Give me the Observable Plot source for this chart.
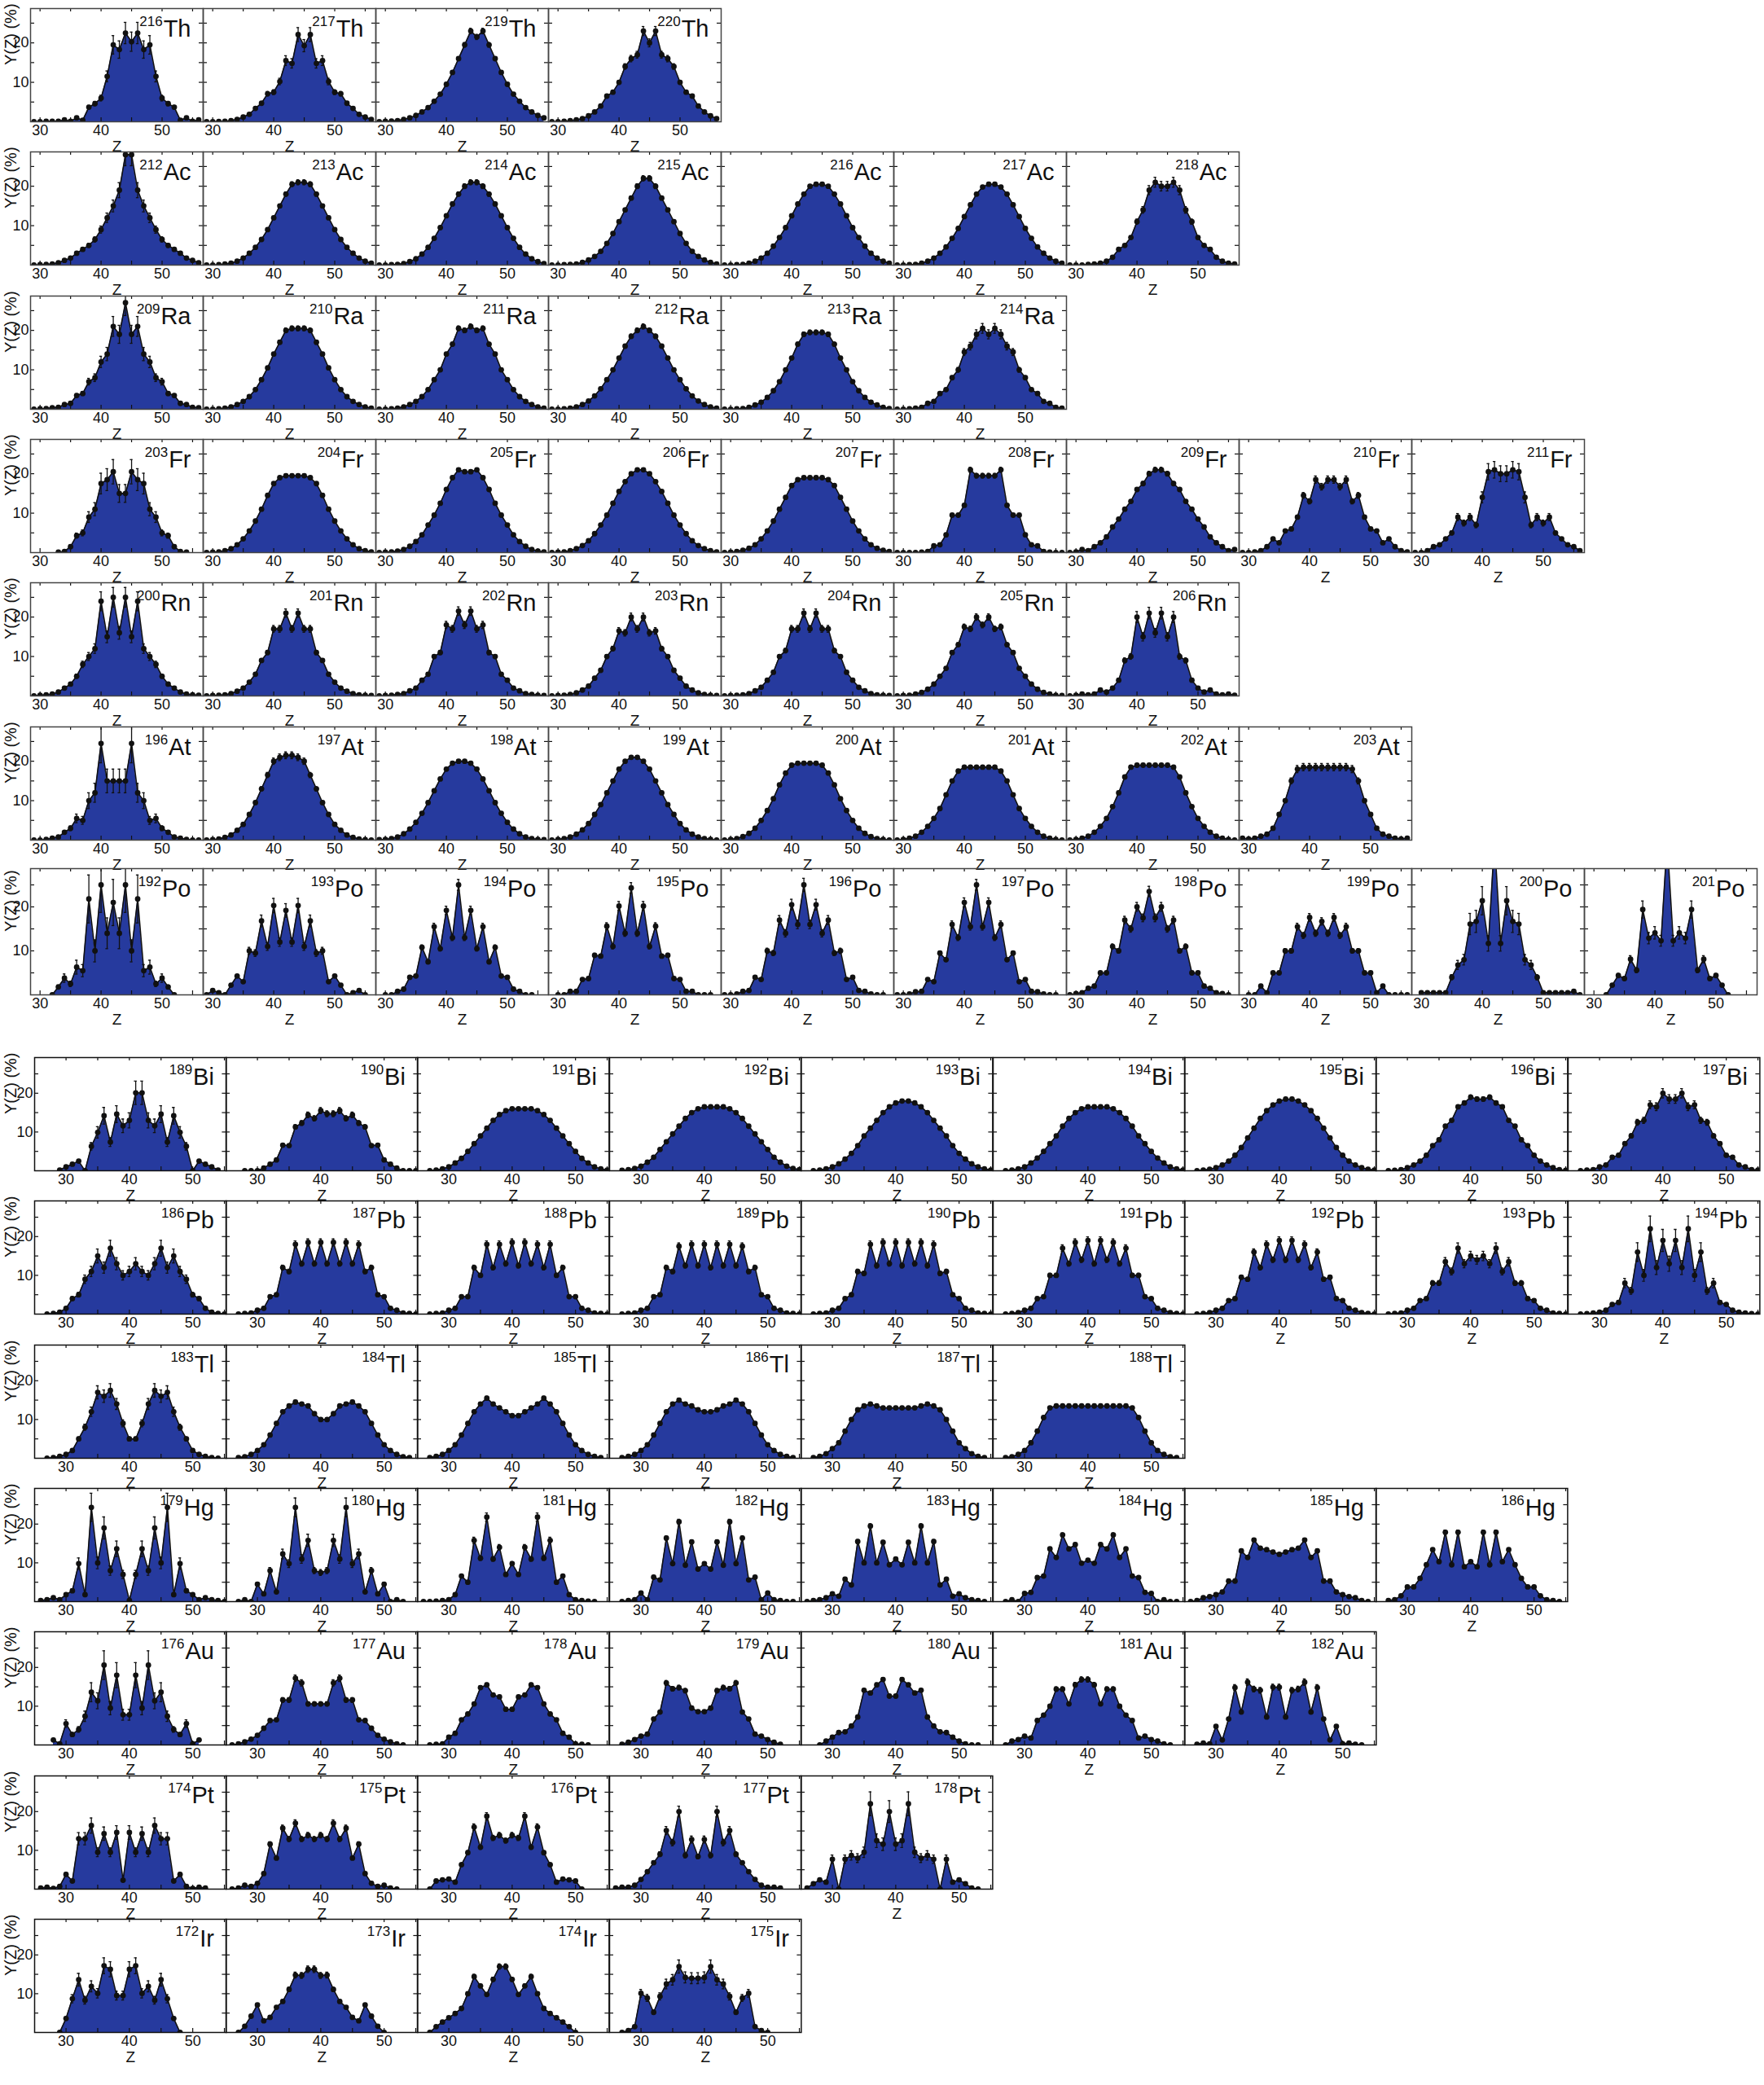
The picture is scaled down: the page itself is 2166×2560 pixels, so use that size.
<!DOCTYPE html>
<html><head><meta charset="utf-8">
<script src="https://cdn.jsdelivr.net/npm/d3@7"></script>
<script src="https://cdn.jsdelivr.net/npm/@observablehq/plot@0.6"></script>
<style>
body{margin:0;background:#fff;}
#root{position:relative;width:2166px;height:2560px;overflow:hidden;background:#fff;}
</style></head><body><div id="root"></div>
<script>
// ---------- data: Y(Z) in %, consecutive Z starting at z0 ----------
const Th = [
 {A:216,z0:29,err:0.12,y:[0,0,0.1,0.1,0.1,0.5,0.1,1.0,0.4,3.7,4.6,6.0,11.5,19.5,18.3,22.5,20.3,22.5,18.3,19.5,11.5,6.0,4.6,3.7,0.4,1.0,0.1,0.5]},
 {A:217,z0:29,err:0.08,y:[0,0,0.05,0.1,0.3,0.6,1.2,1.9,3.4,4.7,7.1,7.5,10.2,15.5,14.8,22.1,19.3,22.1,14.8,15.5,10.2,7.5,7.1,4.7,3.4,1.9,1.2,0.6]},
 {A:219,z0:29,err:0.03,y:[0,0.1,0.2,0.3,0.6,1.0,1.6,2.5,3.6,5.2,7.0,9.5,12.5,16,19.5,23,21.5,23,19.5,16,12.5,9.5,7.0,5.2,3.6,2.5,1.6,1.0]},
 {A:220,z0:29,err:0.05,y:[0,0,0.1,0.3,0.5,0.8,1.5,2.5,4.0,6.5,7.5,10,14,16,17,23,20,23,17,16,14,10,7.5,6.5,4.0,2.5,1.5,0.8]}
];
const Ac = [
 {A:212,z0:29,err:0.1,y:[0,0.1,0.2,0.3,0.6,1.2,1.8,3,4,5,6.5,9,12,15,19,28,28,19,15,12,9,6.5,5,4,3,1.8,1.2,0.6]},
 {A:213,z0:29,err:0.03,y:[0,0,0.1,0.3,0.5,1.0,1.8,3,4.5,6.5,9,12,15,18,20.5,21,21,20.5,18,15,12,9,6.5,4.5,3,1.8,1.0,0.5]},
 {A:214,z0:29,err:0.03,y:[0,0,0.1,0.2,0.4,0.9,1.6,2.8,4.5,6.8,9.5,12.5,15.5,18,20,21,21,20,18,15.5,12.5,9.5,6.8,4.5,2.8,1.6,0.9,0.4]},
 {A:215,z0:29,err:0.03,y:[0,0,0.1,0.2,0.3,0.7,1.3,2.2,3.5,5.5,8,11,14,17,20,22,22,20,17,14,11,8,5.5,3.5,2.2,1.3,0.7,0.3]},
 {A:216,z0:29,err:0.02,y:[0,0,0.1,0.2,0.5,1,1.8,3,4.8,7,9.5,12.5,15.5,18,20,20.5,20.5,20,18,15.5,12.5,9.5,7,4.8,3,1.8,1,0.5]},
 {A:217,z0:29,err:0.02,y:[0,0,0.1,0.2,0.5,1,1.8,3,4.6,6.8,9.3,12.3,15.3,18,19.8,20.5,20.5,19.8,18,15.3,12.3,9.3,6.8,4.6,3,1.8,1,0.5]},
 {A:218,z0:29,err:0.06,y:[0,0,0,0.2,0.3,0.5,1,2,4,5,7,11,14,19,21,20,20,21,19,14,11,7,5,4,2,1,0.5,0.3]}
];
const Ra = [
 {A:209,z0:29,err:0.12,y:[0,0.1,0.2,0.4,0.5,1.2,1.5,3.5,4,7,8,12,14,21,19,27,19,21,14,12,8,7,4,3.5,1.5,1.2,0.5,0.4]},
 {A:210,z0:29,err:0.03,y:[0,0,0.1,0.3,0.6,1.2,2,3.2,5,7.5,10.5,14,17,20,20.5,20.5,20.5,20,17,14,10.5,7.5,5,3.2,2,1.2,0.6,0.3]},
 {A:211,z0:29,err:0.03,y:[0,0,0.1,0.3,0.6,1.2,2,3.2,5,7.5,10,14,16.5,20.5,20,21,20,20.5,16.5,14,10,7.5,5,3.2,2,1.2,0.6,0.3]},
 {A:212,z0:29,err:0.03,y:[0,0,0.1,0.3,0.6,1.2,2.1,3.4,5.2,7.5,10,13,16,18.5,20,21,20,18.5,16,13,10,7.5,5.2,3.4,2.1,1.2,0.6,0.3]},
 {A:213,z0:29,err:0.03,y:[0,0,0.1,0.2,0.5,1.1,1.8,3,4.7,7,10,13,16.5,19,19.5,19.5,19.5,19,16.5,13,10,7,4.7,3,1.8,1.1,0.5,0.2]},
 {A:214,z0:29,err:0.06,y:[0,0,0.1,0.3,0.5,1.5,2,4,5,8,10,14.5,16,19,20.5,19,20.5,19,16,14.5,10,8,5,4,2,1.5,0.5,0.3]}
];
const Fr = [
 {A:203,z0:33,err:0.15,y:[0.1,0.3,1.5,4.3,5,9,11,17.5,18.5,20.5,15,15,20.5,18.5,17.5,11,9,5,4.3,1.5,0.3,0.1]},
 {A:204,z0:29,err:0.02,y:[0,0.1,0.2,0.5,1,2,3.5,5.5,8,11,14.5,17.5,19,19.5,19.5,19.5,19.5,19,17.5,14.5,11,8,5.5,3.5,2,1,0.5,0.2]},
 {A:205,z0:29,err:0.02,y:[0,0.1,0.2,0.4,0.8,1.6,2.8,4.5,7,9.5,12.5,16,19,21,20.5,20.5,21,19,16,12.5,9.5,7,4.5,2.8,1.6,0.8,0.4,0.2]},
 {A:206,z0:29,err:0.02,y:[0,0.1,0.2,0.5,1,1.8,3,4.8,7,9.5,12.5,15.5,18,20,21,21,20,18,15.5,12.5,9.5,7,4.8,3,1.8,1,0.5,0.2]},
 {A:207,z0:29,err:0.02,y:[0,0.1,0.3,0.6,1.1,2,3.5,5.5,8,11,14,17,18.5,19,19,19,19,18.5,17,14,11,8,5.5,3.5,2,1.1,0.6,0.3]},
 {A:208,z0:29,err:0.03,y:[0,0,0,0,0.1,0.3,1.7,2,4.5,9.5,9.5,12,21,19.5,19.5,19.5,19.5,21,12,9.5,9.5,4.5,2,1.7,0.3,0.1,0,0]},
 {A:209,z0:29,err:0.03,y:[0,0.2,0.8,0.5,1.5,2.5,4,6.5,8.5,11,13,16,17.5,20,21,21,20,17.5,16,13,11,8.5,6.5,4,2.5,1.5,0.5,0.8]},
 {A:210,z0:29,err:0.05,y:[0,0,0.2,0.5,1.5,3.5,2.5,5.5,6,9,14.5,13,18.5,16.7,18.5,18.5,16.7,18.5,13,14.5,9,6,5.5,2.5,3.5,1.5,0.5,0.2]},
 {A:211,z0:29,err:0.1,y:[0,0,0.5,1.5,2,3.5,5,9,7.5,9,7,14,20.5,21,20,20,21,20.5,14,7,9,7.5,9,5,3.5,2,1.5,0.5]}
];
const Rn = [
 {A:200,z0:29,err:0.1,y:[0,0.2,0.3,0.5,1,2,3,5,8,10,12,24,15,25,16,25,15,24,12,10,8,5,3,2,1,0.5,0.3,0.2]},
 {A:201,z0:29,err:0.05,y:[0,0.1,0.2,0.3,0.6,1.2,2,3.5,5.5,9,11,17,17,21,17,21,17,17,11,9,5.5,3.5,2,1.2,0.6,0.3,0.2,0.1]},
 {A:202,z0:29,err:0.05,y:[0,0.1,0.2,0.4,0.6,1.3,2,4,5.5,10,11,18,17,21.5,18,21.5,17,18,11,10,5.5,4,2,1.3,0.6,0.4,0.2,0.1]},
 {A:203,z0:29,err:0.05,y:[0,0.1,0.2,0.4,0.8,1.5,2.5,4.5,6.5,10,12,16.5,16,20,17,20,16,16.5,12,10,6.5,4.5,2.5,1.5,0.8,0.4,0.2,0.1]},
 {A:204,z0:29,err:0.05,y:[0,0.1,0.2,0.3,0.6,1.3,2.2,4,6,10,11.5,17,17,21,17,21,17,17,11.5,10,6,4,2.2,1.3,0.6,0.3,0.2,0.1]},
 {A:205,z0:29,err:0.04,y:[0,0.1,0.2,0.5,0.9,1.7,3,5,7,11,13,17.5,17,20,18,20,17,17.5,13,11,7,5,3,1.7,0.9,0.5,0.2,0.1]},
 {A:206,z0:29,err:0.07,y:[0,0.2,0.5,0.3,0.5,1.5,1,2,4,9,10,20,15,21,16,21,15,20,10,9,4,2,1,1.5,0.5,0.3,0.5,0.2]}
];
const At = [
 {A:196,z0:29,err:0.2,y:[0,0,0.2,0.5,0.8,2,3,5.5,5,10,12,24.5,15,15,15,15,24.5,12,10,5,5.5,3,2,0.8,0.5,0.2,0,0]},
 {A:197,z0:29,err:0.04,y:[0,0.1,0.3,0.7,1.3,2.5,4,6.5,9.5,13,16.5,20,21,21.5,21.5,21,20,16.5,13,9.5,6.5,4,2.5,1.3,0.7,0.3,0.1,0]},
 {A:198,z0:29,err:0.02,y:[0.1,0.2,0.4,0.8,1.6,2.8,4.5,6.8,9.5,12.5,15.5,18,19.5,20,20,19.5,18,15.5,12.5,9.5,6.8,4.5,2.8,1.6,0.8,0.4,0.2,0.1]},
 {A:199,z0:29,err:0.02,y:[0,0.2,0.4,0.8,1.5,2.6,4.2,6.5,9,12,15,18,20,21,21,20,18,15,12,9,6.5,4.2,2.6,1.5,0.8,0.4,0.2,0]},
 {A:200,z0:29,err:0.02,y:[0,0.2,0.4,0.9,1.7,3,5,7.5,10.5,14,17,19,19.5,19.5,19.5,19.5,19,17,14,10.5,7.5,5,3,1.7,0.9,0.4,0.2,0]},
 {A:201,z0:29,err:0.02,y:[0,0.2,0.5,1,2,3.5,5.5,8,11.5,15,17.5,18.5,18.5,18.5,18.5,18.5,18.5,17.5,15,11.5,8,5.5,3.5,2,1,0.5,0.2,0]},
 {A:202,z0:29,err:0.02,y:[0,0.2,0.5,1,2,3.5,5.5,8.5,12,16,18.5,19,19,19,19,19,19,18.5,16,12,8.5,5.5,3.5,2,1,0.5,0.2,0]},
 {A:203,z0:29,err:0.05,y:[0.5,0.3,0.5,1,1.5,3,6.5,10,15,18,18.5,18.5,18.5,18.5,18.5,18.5,18.5,18.5,18,15,10,6.5,3,1.5,1,0.5,0.3,0.5]}
];
const Po = [
 {A:192,z0:32,err:0.25,y:[0,1.8,3.8,2.5,6.3,5.5,21.8,10,25,14,21,14,25,10,21.8,5.5,6.3,2.5,3.8,1.8,0]},
 {A:193,z0:29,err:0.08,y:[0,1,0.5,0,2.2,4.3,3,10,9.5,16.8,11,20.3,12,19.2,12,20.3,11,16.8,9.5,10,3,4.3,2.2,0,0.5,1,0]},
 {A:194,z0:30,err:0.05,y:[0,0,0.8,1.3,4,4.3,10.8,7.5,15.5,10.5,19.2,13,25,13,19.2,10.5,15.5,7.5,10.8,4.3,4,1.3,0.8,0,0]},
 {A:195,z0:30,err:0.05,y:[0,0,0.8,0.8,3.5,3.7,9,8.8,15.6,11,20.2,14,24.3,14,20.2,11,15.6,8.8,9,3.7,3.5,0.8,0.8,0,0,0]},
 {A:196,z0:29,err:0.06,y:[0,0,0.2,0.8,1,4,3.5,10,9.5,17,14,20.5,16,25,16,20.5,14,17,9.5,10,3.5,4,1,0.8,0.2,0,0]},
 {A:197,z0:29,err:0.05,y:[0,0,0.2,0.7,0.8,3.5,3,9.5,8,16,13,21,15.5,25,15.5,21,13,16,8,9.5,3,3.5,0.8,0.7,0.2,0,0]},
 {A:198,z0:29,err:0.05,y:[0,0.3,0.5,1.5,2,5,5,11,10,17,15,20,17.5,23.5,17.5,20,15,17,10,11,5,5,2,1.5,0.5,0.3,0]},
 {A:199,z0:30,err:0.05,y:[0,0,2,0.5,5,5,10,10,15.5,13.5,17.6,14,16.7,14,17.6,13.5,15.5,10,10,5,5,0.5,2,0,0,0,0]},
 {A:200,z0:30,err:0.15,y:[0.5,0.5,0.5,0.5,0.5,4,6.8,8,16.1,16.7,21.4,11.7,35,11.7,21.4,16.7,16.1,8,6.8,4,0.5,0.5,0.5,0.5,0.5,0.8,0]},
 {A:201,z0:32,err:0.1,y:[0,2.2,4.4,3.7,8.1,5.6,19.4,12.9,14.1,12.3,35,12.3,14.1,12.9,19.4,5.6,8.1,3.7,4.4,2.2,0]}
];
const Bi = [
 {A:189,z0:29,err:0.15,y:[0.2,1,1.7,2.5,0,6.3,9.9,14.2,7.4,14.6,11.6,13,20.1,20.1,13,11.6,14.6,7.4,14.2,9.9,6.3,0,2.5,1.7,1,0.2]},
 {A:190,z0:28,err:0.05,y:[0,0,0,0.7,1.7,2.8,6.6,6.5,11.3,12.3,14.4,13.5,15.5,14.7,14.7,15.5,13.5,14.4,12.3,11.3,6.5,6.6,2.8,1.7,0.7,0,0,0]},
 {A:191,z0:27,err:0.02,y:[0,0.2,0.5,1,2,3.2,5,7,9,11,13,14.5,15.5,16,16,16,16,15.5,14.5,13,11,9,7,5,3.2,2,1,0.5,0.2]},
 {A:192,z0:27,err:0.02,y:[0.1,0.3,0.6,1.2,2.2,3.5,5.5,7.5,9.5,11.5,13.5,15,16,16.5,16.5,16.5,16.5,16,15,13.5,11.5,9.5,7.5,5.5,3.5,2.2,1.2,0.6,0.3]},
 {A:193,z0:27,err:0.02,y:[0,0.2,0.5,1,1.8,3,4.5,6.5,9,11,13,15,16.5,17.5,18,18,17.5,16.5,15,13,11,9,6.5,4.5,3,1.8,1,0.5,0.2]},
 {A:194,z0:27,err:0.02,y:[0,0.2,0.5,1,2,3.3,5,7,9,11.5,13.5,15,16,16.5,16.5,16.5,16.5,16,15,13.5,11.5,9,7,5,3.3,2,1,0.5,0.2]},
 {A:195,z0:27,err:0.02,y:[0,0.2,0.4,0.8,1.5,2.5,4,6,8.5,11,13.5,15.5,17,18,18.5,18.5,18,17,15.5,13.5,11,8.5,6,4,2.5,1.5,0.8,0.4,0.2]},
 {A:196,z0:27,err:0.03,y:[0,0.1,0.3,0.8,1.5,2.5,4,6.5,8,11.5,13,16.5,17.5,19,18.5,18.5,19,17.5,16.5,13,11.5,8,6.5,4,2.5,1.5,0.8,0.3,0.1]},
 {A:197,z0:27,err:0.06,y:[0,0.2,0.3,1,1.5,3.5,4,7,9,12.5,13,17,16.5,20,18.5,18.5,20,16.5,17,13,12.5,9,7,4,3.5,1.5,1,0.3,0.2]}
];
const Pb = [
 {A:186,z0:27,err:0.12,y:[0,0.2,0.5,1.5,4,5,9,11,15,12,17,13,10,11,13,11,10,13,17,12,15,11,9,5,4,1.5,0.5,0.2,0]},
 {A:187,z0:27,err:0.05,y:[0,0.2,0.3,1,1.5,4.5,5,12,11,18,13,18.5,13,18.5,13,18.5,13,18.5,13,18,11,12,5,4.5,1.5,1,0.3,0.2,0]},
 {A:188,z0:27,err:0.05,y:[0,0.2,0.3,1,1.5,4.5,4.5,12,10,18,12,18,13,18.5,12.5,18.5,13,18,12,18,10,12,4.5,4.5,1.5,1,0.3,0.2,0]},
 {A:189,z0:27,err:0.05,y:[0,0.2,0.3,1,1.5,4.5,5,12,11,17.5,12.5,18,12.5,18,12,18,12.5,18,12.5,17.5,11,12,5,4.5,1.5,1,0.3,0.2,0]},
 {A:190,z0:27,err:0.05,y:[0,0.2,0.3,1,1.5,4,5,11,10.5,18,12.5,18.5,13,18.5,12.5,18.5,13,18.5,12.5,18,10.5,11,5,4,1.5,1,0.3,0.2,0]},
 {A:191,z0:27,err:0.05,y:[0,0.2,0.4,1,1.5,4,4.5,10,10,17,13,18.5,14,19,13,19,14,18.5,13,17,10,10,4.5,4,1.5,1,0.4,0.2,0]},
 {A:192,z0:27,err:0.05,y:[0,0.2,0.4,1,1.5,3.5,4,9.5,9,16,12,18,14,19,14,19,14,18,12,16,9,9.5,4,3.5,1.5,1,0.4,0.2,0]},
 {A:193,z0:27,err:0.08,y:[0,0.2,0.3,1,1.5,3.5,4,8,8,13.5,11,17,13,15,14,15,13,17,11,13.5,8,8,4,3.5,1.5,1,0.3,0.2,0]},
 {A:194,z0:27,err:0.15,y:[0,0.1,0.3,0.5,1,2.5,3,8,6,16,10,22,12,19,13,19,12,22,10,16,6,8,3,2.5,1,0.5,0.3,0.1,0]}
];
const Tl = [
 {A:183,z0:27,err:0.1,y:[0,0.2,0.5,1,2,5,8,12,17,16,17.5,14,9,5,5,9,14,17.5,16,17,12,8,5,2,1,0.5,0.2,0]},
 {A:184,z0:27,err:0.03,y:[0.2,0.4,1,2,3.5,6,9,12,13.5,14.5,14,13.5,11.5,10,10,11.5,13.5,14,14.5,13.5,12,9,6,3.5,2,1,0.4,0.2]},
 {A:185,z0:27,err:0.03,y:[0.2,0.5,1,2,3.5,6,9,12,14,15.5,14,13,12,11,11,12,13,14,15.5,14,12,9,6,3.5,2,1,0.5,0.2]},
 {A:186,z0:27,err:0.03,y:[0.2,0.5,1,2,3.5,6,9,12,14,15,14,13.5,12.5,12,12,12.5,13.5,14,15,14,12,9,6,3.5,2,1,0.5,0.2]},
 {A:187,z0:27,err:0.03,y:[0.2,0.5,1.2,2.5,4,7,10,12.5,13.5,14,13.5,13,13,13,13,13,13,13.5,14,13.5,12.5,10,7,4,2.5,1.2,0.5,0.2]},
 {A:188,z0:27,err:0.02,y:[0.2,0.4,1,2,4,7,10.5,13,13.5,13.5,13.5,13.5,13.5,13.5,13.5,13.5,13.5,13.5,13.5,13.5,13,10.5,7,4,2,1,0.4,0.2]}
];
const Hg = [
 {A:179,z0:26,err:0.15,y:[0.3,0.5,1,0.5,1.8,2.8,9.8,1.8,24.3,10,19,8,13.6,7,0.3,7,13.6,8,19,10,24.3,1.8,9.8,2.8,1.8,0.5,1,0.5,0.3,0]},
 {A:180,z0:27,err:0.1,y:[0,0.5,0,4.5,2,8,2.5,12.3,9.8,24.3,11,15.8,8,7.5,8,15.8,11,24.3,9.8,12.3,2.5,8,2,4.5,0,0.5,0]},
 {A:181,z0:26,err:0.05,y:[0,0,0.1,0.3,0.5,1.8,6.6,5,15.8,11.2,21.8,11,14,7,9.8,7,14,11,21.8,11.2,15.8,5,6.6,1.8,0.5,0.3,0.1,0]},
 {A:182,z0:27,err:0.03,y:[0,0.3,0.5,2.2,0.5,6.3,5.6,16.4,9.8,20.6,9.4,15.4,8.4,9.8,8.4,15.4,9.4,20.6,9.8,16.4,5.6,6.3,0.5,2.2,0.5,0.3,0,0]},
 {A:183,z0:26,err:0.03,y:[0,0.3,0.5,1,2,1.4,5.8,4.3,15.5,10,19.5,10,15.3,9.5,11,9.5,15.3,10,19.5,10,15.5,4.3,5.8,1.4,2,1,0.5,0.3,0]},
 {A:184,z0:27,err:0.03,y:[0,0.5,0,2.1,2.4,6.2,6.6,13.6,11.4,17.2,13.6,14.7,9.9,10.7,9.9,14.7,13.6,17.2,11.4,13.6,6.6,6.2,2.4,2.1,0,0.5,0,0]},
 {A:185,z0:26,err:0.03,y:[0,0.3,1,1.3,1.8,2.5,5.3,5.3,13.1,11.4,15.9,13.8,13.4,12.8,12.2,12.8,13.4,13.8,15.9,11.4,13.1,5.3,5.3,2.5,1.8,1.3,1,0.3,0]},
 {A:186,z0:27,err:0.03,y:[0.3,0.5,1.5,3.8,3.8,6,9.5,13.4,10.3,17.9,9.5,17.9,9,10.3,9,17.9,9.5,17.9,10.3,13.4,9.5,6,3.8,3.8,1.5,0.5,0.3,0]}
];
const Au = [
 {A:176,z0:28,err:0.18,y:[1.3,0.3,5.5,2.7,4,7.4,13.6,11.4,20.6,9.5,18,7.8,7.8,18,9.5,20.6,11.4,13.6,7.4,4,2.7,5.5,0.3,1.3]},
 {A:177,z0:26,err:0.05,y:[0,0.3,0.8,1.5,2.5,4.3,6.3,6.5,11.6,11.6,17.2,16,10.6,10.6,10.6,10.6,16,17.2,11.6,11.6,6.5,6.3,4.3,2.5,1.5,0.8,0.3,0]},
 {A:178,z0:27,err:0.03,y:[0,0.2,0.3,2,3,6.5,8,10.6,14.8,15.5,12.9,12.4,9.2,9.2,12.4,12.9,15.5,14.8,10.6,8,6.5,3,2,0.3,0.2,0]},
 {A:179,z0:27,err:0.04,y:[0.2,0.7,1.4,2.3,2.8,6.7,8.5,16,14.5,14.8,14,9.5,8.6,8.6,9.5,14,14.8,14.5,16,8.5,6.7,2.8,2.3,1.4,0.7,0.2]},
 {A:180,z0:28,err:0.03,y:[0,1,2,3.2,3.4,4.9,7.2,14.1,13.4,15.5,16.9,12.6,12.6,16.9,15.5,13.4,14.1,7.2,4.9,3.4,3.2,2,1,0.3,0,0]},
 {A:181,z0:27,err:0.04,y:[0,1,1.4,2.3,1.8,6.3,7.7,10,14.4,14.4,10.6,15.5,16.9,16.9,15.5,10.6,14.4,14.4,10,7.7,6.3,1.8,2.3,1.4,1,0.3,0]},
 {A:182,z0:27,err:0.05,y:[0.2,0.5,0.3,4.8,1.3,6.7,14.8,8.5,16.2,14.4,14.1,7.2,14.9,14.9,7.2,14.1,14.4,16.2,8.5,14.8,6.7,1.3,4.8,0.3,0.5,0.2,0]}
];
const Pt = [
 {A:174,z0:26,err:0.12,y:[0.3,0.5,0.2,0.7,3.8,2.1,13,13,16.4,9.5,14.3,9.5,14.6,2.3,14.6,9.5,14.3,9.5,16.4,13,13,2.1,3.8,0.7,0.2,0.5,0.3]},
 {A:175,z0:26,err:0.05,y:[0,0.3,1,0.7,1.5,4,11.6,8,15.7,12.9,17,12.9,13.9,12.9,13.9,12.9,17,12.9,15.7,8,11.6,4,1.5,0.7,1,0.3,0]},
 {A:176,z0:27,err:0.05,y:[0,2.1,2.4,2.6,1.8,6.3,9.4,16,10.8,18.8,13.2,13.9,12.5,13.9,13.2,18.8,10.8,16,9.4,6.3,1.8,2.6,2.4,2.1,0]},
 {A:177,z0:26,err:0.07,y:[0.3,0.5,0.5,1,2.5,4.5,6.8,9,15.1,12,20,8.7,12.8,8.4,12.8,8.7,20,12,15.1,9,6.8,4.5,2.5,1,0.5,0.5,0.3]},
 {A:178,z0:26,err:0.14,y:[0.3,1.4,2.4,1.8,7.7,0,7.7,8.7,8,9.5,22,12.5,11.6,20,11.6,12.5,22,9.5,8,8.7,7.7,0,7.7,1.8,2.4,1.4,0.3,0]}
];
const Ir = [
 {A:172,z0:29,err:0.12,y:[0,3.6,8.7,13.6,8.3,11.9,10.1,17.2,16.3,9.5,9.5,16.3,17.2,10.1,11.9,8.3,13.6,8.7,3.6,0]},
 {A:173,z0:27,err:0.05,y:[0,1.6,4.2,7.1,3,3.9,6.5,8,11.1,14.8,14.7,16.3,16.3,14.7,14.8,11.1,8,6.5,3.9,3,7.1,4.2,1.6,0]},
 {A:174,z0:27,err:0.04,y:[0,1.5,2.7,3.8,4.9,6.2,10,14.4,12,9.8,13.7,17,17,13.7,9.8,12,14.4,10,6.2,4.9,3.8,2.7,1.5,0]},
 {A:175,z0:27,err:0.1,y:[0,0.5,1.5,10.1,8.9,5.2,9.3,12.5,13.6,17,14.2,14,14,14.2,17,13.6,12.5,9.3,5.2,8.9,10.1,1.5,0.5,0]}
];

// ---------- tick values and block layout ----------
const xTickMarks = [30,35,40,45,50,55];
const xTickLabels = [30,40,50];
const yTickMarks = [5,10,15,20,25];
const yTickLabels = [10,20];
const topRows = [["Th",Th],["Ac",Ac],["Ra",Ra],["Fr",Fr],["Rn",Rn],["At",At],["Po",Po]];
const botRows = [["Bi",Bi],["Pb",Pb],["Tl",Tl],["Hg",Hg],["Au",Au],["Pt",Pt],["Ir",Ir]];

const FONT = '"Liberation Sans", Arial, Helvetica, sans-serif';
const BLUE = "#263a9e";
const INK = "#111";

const TOPG = {x0:37, dx:212, w:212, xDomain:[28.44,56.74], yDomain:[0,28.7],
  tops:[10,186.3,362.6,538.9,715.2,891.5,1066], hs:[139,139,139,139,139,139,155],
  symDy:14, massDy:9, ylabDx:-24, frame:"#444"};
const BOTG = {x0:41.6, dx:235.4, w:235.4, xDomain:[25.04,55.3], yDomain:[0,29.2],
  tops:[1298,1474.3,1650.6,1826.9,2003.2,2179.5,2355.8], hs:[139,139,139,139,139,139,139],
  symDy:13, massDy:8, ylabDx:-28.6, frame:"#111"};

const root = document.getElementById("root");
const ctx = document.createElement("canvas").getContext("2d");
function textW(s, size){ ctx.font = `${size}px ${FONT}`; return ctx.measureText(s).width; }

function drawPanel(p, sym, L, T, W, H, G, first){
  const ml = first ? 60 : 2, mr = 2, mt = 2, mb = 52;
  const rows = p.y.map((v,i)=>({z:p.z0+i, y:v, e:v*p.err}));
  const eb = rows.filter(d=>d.e>=0.35);
  const marks = [
    Plot.areaY(rows,{x:"z",y:"y",fill:BLUE,clip:true}),
    Plot.ruleX(eb,{x:"z",y1:d=>Math.max(0,d.y-d.e),y2:d=>d.y+d.e,stroke:INK,strokeWidth:1.3,clip:true}),
    Plot.ruleY(eb,{y:d=>d.y+d.e,x1:d=>d.z-0.22,x2:d=>d.z+0.22,stroke:INK,strokeWidth:1.3,clip:true}),
    Plot.ruleY(eb,{y:d=>Math.max(0,d.y-d.e),x1:d=>d.z-0.22,x2:d=>d.z+0.22,stroke:INK,strokeWidth:1.3,clip:true}),
    Plot.lineY(rows,{x:"z",y:"y",stroke:INK,strokeWidth:1.6,clip:true}),
    Plot.dot(rows,{x:"z",y:"y",r:3.4,fill:INK,stroke:"none",clip:true}),
    Plot.tickX(xTickMarks,{x:d=>d,insetTop:H-5,stroke:INK,strokeWidth:1.2}),
    Plot.tickX(xTickMarks,{x:d=>d,insetBottom:H-4,stroke:INK,strokeWidth:1.2}),
    Plot.tickY(yTickMarks,{y:d=>d,insetRight:W-5,stroke:INK,strokeWidth:1.2}),
    Plot.tickY(yTickMarks,{y:d=>d,insetLeft:W-5,stroke:INK,strokeWidth:1.2}),
    Plot.frame({stroke:G.frame,strokeWidth:1.5}),
    Plot.text([sym],{frameAnchor:"top-right",text:d=>d,dx:-15,dy:G.symDy,fontSize:29,textAnchor:"end",lineAnchor:"top",fill:INK}),
    Plot.text([String(p.A)],{frameAnchor:"top-right",text:d=>d,dx:-16-textW(sym,29),dy:G.massDy,fontSize:17,textAnchor:"end",lineAnchor:"top",fill:INK}),
    Plot.text(["Z"],{frameAnchor:"bottom",text:d=>d,dy:30,fontSize:19,lineAnchor:"middle",fill:INK})
  ];
  if (first) marks.push(Plot.text(["Y(Z) (%)"],{frameAnchor:"left",text:d=>d,dx:G.ylabDx,rotate:-90,fontSize:20,fill:INK}));
  const svg = Plot.plot({
    width:W+ml+mr, height:H+mt+mb, marginLeft:ml, marginRight:mr, marginTop:mt, marginBottom:mb,
    x:{domain:G.xDomain, ticks:xTickLabels, tickSize:0, tickPadding:4, label:null},
    y:{domain:G.yDomain, axis:first?"left":null, ticks:yTickLabels, tickSize:0, tickPadding:2, label:null},
    style:{background:"transparent", overflow:"visible", fontFamily:FONT, fontSize:"18px", color:INK},
    marks
  });
  svg.style.position = "absolute";
  svg.style.left = (L-ml)+"px";
  svg.style.top = (T-mt)+"px";
  svg.style.maxWidth = "none";
  root.appendChild(svg);
}

function drawBlock(rowsSpec, G){
  rowsSpec.forEach(([sym, list], r)=>{
    list.forEach((p,k)=>{
      drawPanel(p, sym, G.x0+k*G.dx, G.tops[r], G.w, G.hs[r], G, k===0);
    });
  });
}
drawBlock(topRows, TOPG);
drawBlock(botRows, BOTG);
</script></body></html>
